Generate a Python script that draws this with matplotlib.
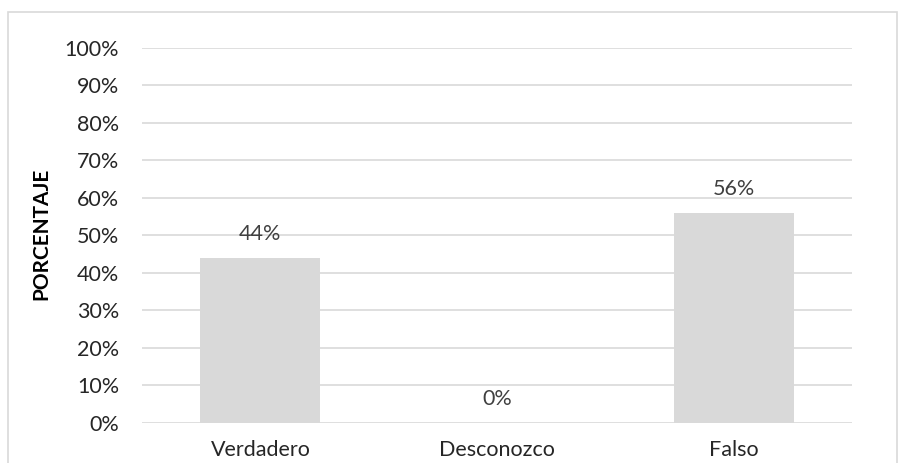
import matplotlib
matplotlib.use("Agg")
import matplotlib.pyplot as plt
from matplotlib.patches import Rectangle

# data
categorias = ["Verdadero", "Desconozco", "Falso"]
porcentajes = [0.44, 0.0, 0.56]
etiquetas = ["44%", "0%", "56%"]
ticks = [i / 10 for i in range(11)]

plt.rcParams['font.family'] = ['Lato', 'DejaVu Sans']

fig = plt.figure(figsize=(8.99, 4.63), dpi=100)
ax = fig.add_axes([0.158, 0.0864, 0.79, 0.81])

# outer chart border
fig.patches.append(Rectangle((8 / 899, -0.1), 889 / 899, 1.1 - 12 / 463,
                             transform=fig.transFigure, fill=False,
                             edgecolor="#d9d9d9", linewidth=1.2))

x = range(len(categorias))
ax.bar(x, porcentajes, width=0.507, color="#d9d9d9", zorder=2)

for i, (v, lab) in enumerate(zip(porcentajes, etiquetas)):
    ax.text(i, v + 0.038, lab, ha="center", va="bottom", fontsize=15.5,
            color="#404040")

ax.set_xlim(-0.5, 2.5)
ax.set_ylim(0, 1)
ax.set_yticks(ticks)
ax.set_yticklabels([f"{int(t * 100)}%" for t in ticks])
ax.set_xticks(list(x))
ax.set_xticklabels(categorias)
ax.yaxis.grid(True, color="#d9d9d9", linewidth=1.2, zorder=0)
ax.set_axisbelow(True)
for s in ax.spines.values():
    s.set_visible(False)
ax.tick_params(axis="both", length=0, labelsize=15.5, labelcolor="#262626")
ax.tick_params(axis="y", pad=16.5)
ax.tick_params(axis="x", pad=12)
ax.set_ylabel("PORCENTAJE", fontsize=15, fontweight="bold")
ax.yaxis.set_label_coords(-0.127, 0.505)

fig.savefig("out.png", dpi=100)
